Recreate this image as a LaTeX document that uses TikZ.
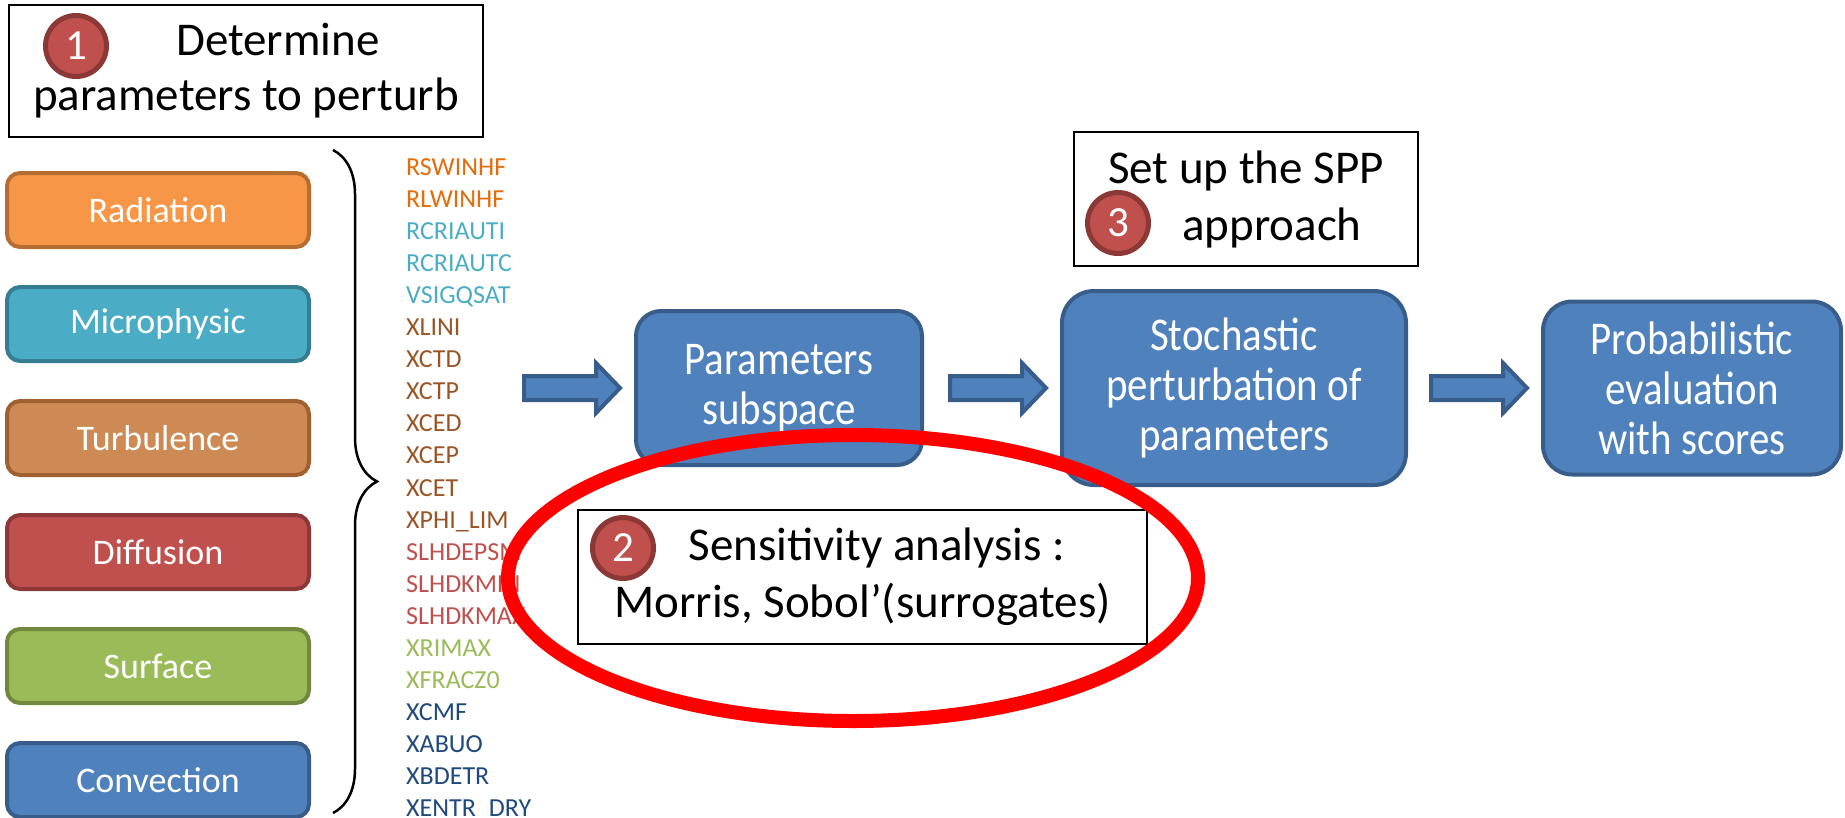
\documentclass[tikz,border=0pt]{standalone}
\usepackage{fontspec}
\setmainfont{Carlito}
\newfontfamily\stepfont{Carlito}[FakeStretch=0.87]
\usetikzlibrary{positioning, shapes.geometric, decorations.pathreplacing, calc}

\definecolor{radfill}{HTML}{F79646}
\definecolor{radline}{HTML}{B66D31}
\definecolor{radtxt}{HTML}{E46C0A}
\definecolor{micfill}{HTML}{4BACC6}
\definecolor{micline}{HTML}{357D91}
\definecolor{mictxt}{HTML}{4BACC6}
\definecolor{turfill}{HTML}{CD8A54}
\definecolor{turline}{HTML}{A0602F}
\definecolor{turtxt}{HTML}{9A5426}
\definecolor{diffill}{HTML}{C0504D}
\definecolor{difline}{HTML}{8C3836}
\definecolor{diftxt}{HTML}{C0504D}
\definecolor{surfill}{HTML}{9BBB59}
\definecolor{surline}{HTML}{71893F}
\definecolor{surtxt}{HTML}{9BBB59}
\definecolor{confill}{HTML}{4F81BD}
\definecolor{conline}{HTML}{385D8A}
\definecolor{contxt}{HTML}{1F497D}
\definecolor{flowfill}{HTML}{4F81BD}
\definecolor{flowline}{HTML}{385D8A}

% one fat arrow, #1 = where its tip sits
\newcommand{\blockarrow}[1]{%
  \draw[flowarrow] (#1) -- ++(-24,-25) -- ++(0,13) -- ++(-72,0) -- ++(0,24)
    -- ++(72,0) -- ++(0,13) -- cycle;}

\begin{document}
\begin{tikzpicture}[
    x=1pt, y=-1pt, % one unit is one pixel of the slide
    node distance=36pt, % gap between the scheme boxes
    scheme/.style={draw, rounded corners=13pt, line width=4pt, minimum width=302pt,
      minimum height=74pt, inner sep=0pt, text=white, font=\fontsize{36}{44}\selectfont},
    param/.style={anchor=base west, inner sep=0pt, font=\fontsize{26}{32}\selectfont},
    stepbox/.style={draw=flowline, fill=flowfill, line width=4pt, inner sep=0pt,
      align=center, text=white, font=\stepfont\fontsize{47}{50}\selectfont},
    note/.style={draw, line width=2pt, fill=white, inner sep=0pt, align=center,
      font=\fontsize{47}{57}\selectfont},
    num/.style={circle, draw=difline, fill=diffill, line width=5pt, minimum size=61pt,
      inner sep=0pt, text=white, font=\fontsize{43}{50}\selectfont},
    flowarrow/.style={draw=flowline, fill=flowfill, line width=4pt, line join=miter}
]
    \useasboundingbox (0,0) rectangle (1845,817);

    % the schemes of the model
    \node[scheme, fill=radfill, draw=radline] (rad) at (158,210) {Radiation};
    \node[scheme, fill=micfill, draw=micline, below=of rad] (mic) {Microphysic};
    \node[scheme, fill=turfill, draw=turline, below=of mic] (tur) {Turbulence};
    \node[scheme, fill=diffill, draw=difline, below=of tur] (dif) {Diffusion};
    \node[scheme, fill=surfill, draw=surline, below=of dif] (sur) {Surface};
    \node[scheme, fill=confill, draw=conline, below=of sur] (con) {Convection};

    % the brace and the parameters
    \coordinate (btop) at (333,150);
    \coordinate (bbot) at (333,813);
    \draw[line width=2.5pt, decorate, decoration={brace, amplitude=44pt}] (btop) -- (bbot);

    \foreach \pname/\pcol [count=\i from 0] in {RSWINHF/radtxt, RLWINHF/radtxt,
        RCRIAUTI/mictxt, RCRIAUTC/mictxt, VSIGQSAT/mictxt, XLINI/turtxt, XCTD/turtxt,
        XCTP/turtxt, XCED/turtxt, XCEP/turtxt, XCET/turtxt, XPHI\_LIM/turtxt,
        SLHDEPSM/diftxt, SLHDKMIN/diftxt, SLHDKMAX/diftxt, XRIMAX/surtxt, XFRACZ0/surtxt,
        XCMF/contxt, XABUO/contxt, XBDETR/contxt, XENTR\_DRY/contxt}
      \node[param, text=\pcol] (par\i) at (406, {175.5+32.05*\i}) {\pname};

    % the chain of steps
    \node[stepbox, rounded corners=25pt, minimum width=286pt, minimum height=154pt]
      (psub) at (779,388) {Parameters\\subspace};
    \node[stepbox, rounded corners=32pt, minimum width=344pt, minimum height=194pt]
      (stoch) at (1234,388) {Stochastic\\perturbation of\\parameters};
    \node[stepbox, rounded corners=29pt, minimum width=298pt, minimum height=173pt]
      (proba) at (1692,388) {Probabilistic\\evaluation\\with scores};

    \coordinate (tip1) at ($(psub.west)+(-14,0)$);
    \coordinate (tip2) at ($(stoch.west)+(-14,0)$);
    \coordinate (tip3) at ($(proba.west)+(-14,0)$);
    \blockarrow{tip1}
    \blockarrow{tip2}
    \blockarrow{tip3}

    % the numbered tasks
    \node[note, minimum width=474pt, minimum height=132pt, font=\fontsize{47}{55}\selectfont]
      (task1) at (246,71) {\hspace*{64pt}Determine\\parameters to perturb};
    \node[num] (n1) at (76,46) {1};

    \node[note, minimum width=569pt, minimum height=134pt]
      (task2) at (862.5,577) {\hspace*{29pt}Sensitivity analysis :\\Morris, Sobol’(surrogates)};
    \node[num] (n2) at (623,548) {2};

    \node[note, minimum width=344pt, minimum height=134pt]
      (task3) at (1246,199) {Set up the SPP\\\hspace*{52pt}approach};
    \node[num] (n3) at (1118,223) {3};

    % red ring round step 2
    \node[ellipse, draw=red, line width=14pt, minimum width=690pt, minimum height=286pt,
      inner sep=0pt] (focus) at (853,578) {};
\end{tikzpicture}
\end{document}
